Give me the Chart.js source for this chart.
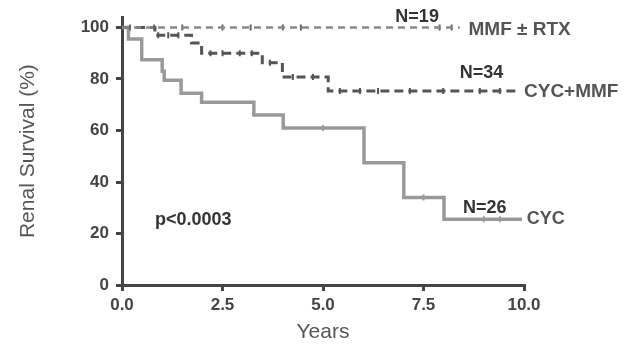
<!DOCTYPE html>
<html>
<head>
<meta charset="utf-8">
<script src="https://cdn.jsdelivr.net/npm/chart.js@4.4.1/dist/chart.umd.min.js"></script>
<style>
  html, body { margin: 0; padding: 0; background: #fff; }
  #wrap { width: 631px; height: 345px; }
</style>
</head>
<body>
<div id="wrap"><canvas id="km" width="631" height="345"></canvas></div>
<script>
// Kaplan-Meier curves: time of each step (years) and survival (%) after it
const cycTimes = [0, 0.16, 0.49, 1.0, 1.05, 1.47, 1.98, 3.28, 4.01, 6.02, 7.01, 8.01, 9.95];
const cycSurv  = [100, 95.5, 87.5, 83, 79.5, 74.5, 71, 66, 61, 47.5, 34, 25.5, 25.5];

const cycMmfTimes = [0, 0.82, 1.73, 1.98, 3.49, 3.99, 5.13, 9.8];
const cycMmfSurv  = [100, 97, 94, 90, 86.3, 80.8, 75.3, 75.3];

const mmfTimes = [0, 8.4];
const mmfSurv  = [100, 100];

// Censored observations (years)
const cycCensor    = [5.0, 7.5, 9.0, 9.4];
const cycMmfCensor = [0.9, 1.15, 1.4, 2.2, 2.5, 2.93, 3.23, 3.68, 4.25, 4.75, 5.42, 5.92, 6.37, 7.16, 7.99, 8.9, 9.4];
const mmfCensor    = [0.2, 0.8, 1.5, 2.5, 3.2, 4.0, 4.45, 7.9, 8.2];

// Axis ticks
const xTicks = [0, 2.5, 5, 7.5, 10];
const yTicks = [0, 20, 40, 60, 80, 100];

// Text notes placed in data coordinates
const noteText  = ['N=19', 'MMF \u00B1 RTX', 'N=34', 'CYC+MMF', 'N=26', 'CYC', 'p<0.0003'];
const noteX     = [6.8, 8.62, 8.4, 10.0, 8.48, 10.07, 0.82];
const noteY     = [104, 99, 82.5, 75.2, 30, 25.5, 25.2];
const noteColor = ['#333', '#555', '#333', '#555', '#333', '#555', '#333'];
const noteSize  = [18, 19, 18, 19, 18, 18, 18];

const FONT = '"Liberation Sans", Arial, Helvetica, sans-serif';

function toPoints(xs, ys) {
  return xs.map((x, i) => ({ x: x, y: ys[i] }));
}
// survival level of a step curve at time t
function levelAt(xs, ys, t) {
  let v = ys[0];
  for (let i = 0; i < xs.length; i++) { if (xs[i] <= t) v = ys[i]; }
  return v;
}
function censorPoints(ts, xs, ys) {
  return ts.map(t => ({ x: t, y: levelAt(xs, ys, t) }));
}

const notesPlugin = {
  id: 'notes',
  afterDatasetsDraw(chart) {
    const { ctx, scales: { x, y } } = chart;
    ctx.save();
    ctx.textAlign = 'left';
    ctx.textBaseline = 'middle';
    noteText.forEach((t, i) => {
      ctx.font = 'bold ' + noteSize[i] + 'px ' + FONT;
      ctx.fillStyle = noteColor[i];
      ctx.fillText(t, x.getPixelForValue(noteX[i]), y.getPixelForValue(noteY[i]));
    });
    ctx.restore();
  }
};

const censorStyle = (color) => ({
  type: 'scatter', showLine: false, pointStyle: 'line', rotation: 90,
  pointRadius: 3, pointBorderWidth: 2, pointBorderColor: color, pointBackgroundColor: color
});

new Chart(document.getElementById('km'), {
  type: 'line',
  data: {
    datasets: [
      { label: 'MMF \u00B1 RTX', data: toPoints(mmfTimes, mmfSurv), stepped: 'before',
        borderColor: '#888', borderWidth: 2.5, borderDash: [7, 5], pointRadius: 0, fill: false },
      Object.assign({ data: censorPoints(mmfCensor, mmfTimes, mmfSurv) }, censorStyle('#666')),
      { label: 'CYC+MMF', data: toPoints(cycMmfTimes, cycMmfSurv), stepped: 'before',
        borderColor: '#555', borderWidth: 3, borderDash: [9, 5], pointRadius: 0, fill: false },
      Object.assign({ data: censorPoints(cycMmfCensor, cycMmfTimes, cycMmfSurv) }, censorStyle('#555')),
      { label: 'CYC', data: toPoints(cycTimes, cycSurv), stepped: 'before',
        borderColor: '#999', borderWidth: 3.5, pointRadius: 0, fill: false },
      Object.assign({ data: censorPoints(cycCensor, cycTimes, cycSurv) }, censorStyle('#999'))
    ]
  },
  options: {
    responsive: false,
    animation: false,
    devicePixelRatio: 1,
    layout: { padding: { left: 0, top: 17, right: 107, bottom: 0 } },
    plugins: { legend: { display: false }, tooltip: { enabled: false } },
    scales: {
      x: {
        type: 'linear', min: 0, max: 10,
        afterBuildTicks: s => { s.ticks = xTicks.map(v => ({ value: v })); },
        afterFit: s => { s.height = 60; },
        grid: { drawOnChartArea: false, drawTicks: true, tickLength: 6, color: '#444', lineWidth: 3 },
        border: { color: '#444', width: 3 },
        ticks: { padding: 4, color: '#444', maxRotation: 0,
                 font: { family: FONT, size: 17, weight: 'bold' },
                 callback: v => Number(v).toFixed(1) },
        title: { display: true, text: 'Years', color: '#555', padding: { top: 0, bottom: 0 },
                 font: { family: FONT, size: 21 } }
      },
      y: {
        type: 'linear', min: 0, max: 104,
        afterBuildTicks: s => { s.ticks = yTicks.map(v => ({ value: v })); },
        afterFit: s => { s.width = 122; },
        grid: { drawOnChartArea: false, drawTicks: true, tickLength: 6, color: '#444', lineWidth: 3 },
        border: { color: '#444', width: 3 },
        ticks: { padding: 7, color: '#444', font: { family: FONT, size: 17, weight: 'bold' } },
        title: { display: true, text: 'Renal Survival (%)', color: '#555', padding: { top: 16, bottom: 0 },
                 font: { family: FONT, size: 21 } }
      }
    }
  },
  plugins: [notesPlugin]
});
</script>
</body>
</html>
